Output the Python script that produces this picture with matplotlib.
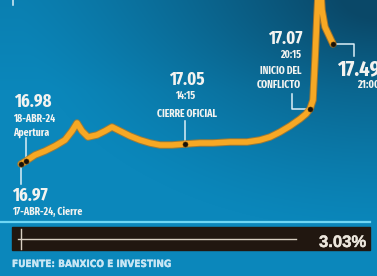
import numpy as np
import matplotlib
matplotlib.use("Agg")
import matplotlib.pyplot as plt
import matplotlib.patheffects as pe
from matplotlib.colors import to_rgb
from matplotlib import font_manager as fm

# ---- data (x = time position, y = relative level) ----
x_pos = [21, 26, 35, 45, 55, 65, 72, 77, 82, 88, 97, 105, 112, 120, 130, 140, 150,
         160, 172, 185, 200, 213, 230, 247, 260, 270, 280, 290, 300, 306, 310, 313,
         315, 317, 318.5, 320.5, 322, 325, 333]
level = [112, 115, 121, 125, 130, 136, 145, 153, 145, 139, 141, 145, 149, 145, 140,
         136, 133, 131, 131, 132, 133, 133, 134, 134, 136, 139, 144, 150, 157, 162,
         167, 176, 216, 261, 291, 291, 266, 249, 232]
marked_idx = [0, 1, 19, 30, 38]
change_label = "3.03%"
source = "FUENTE: BANXICO E INVESTING"

# ---- condensed font lookup ----
order = {"ultra-condensed": 0, "extra-condensed": 1, "condensed": 2,
         "semi-condensed": 3}
def stretch_rank(f):
    n = f.name.lower() + " " + f.fname.lower()
    if "ultracondensed" in n:
        return 0
    if "extracondensed" in n or "extra condensed" in n or "extra-condensed" in n:
        return 1
    s = str(f.stretch)
    if s in order:
        return order[s]
    if "semicondensed" in n:
        return 3
    if "condensed" in n or "narrow" in n:
        return 2
    return 9
def bold_rank(f):
    fn = f.fname.lower()
    if "italic" in fn:
        return 9
    if "semibold" in fn or "extrabold" in fn or "black" in fn:
        return 2
    if "bold" in fn or str(f.weight) in ("700", "bold"):
        return 0
    return 9
def pick(ranks):
    c = [f for f in fm.fontManager.ttflist if stretch_rank(f) in ranks and bold_rank(f) < 9]
    c.sort(key=lambda f: (ranks.index(stretch_rank(f)), bold_rank(f)))
    if c:
        return fm.FontProperties(fname=c[0].fname)
    return fm.FontProperties(family="DejaVu Sans", weight="bold")
big_prop = pick([1, 0, 2, 3])
small_prop = pick([2, 3, 1, 0])
wide_prop = fm.FontProperties(family=["Liberation Sans", "DejaVu Sans"], weight="bold")

W, H = 377, 276
fig = plt.figure(figsize=(W / 100, H / 100), dpi=100)
ax = fig.add_axes([0, 0, 1, 1])
ax.set_xlim(0, W)
ax.set_ylim(0, H)
ax.axis("off")

# background gradient (darker toward the top-right corner)
yy, xx = np.mgrid[0:H, 0:W]
d = np.sqrt(((W - xx) / W) ** 2 + (yy / H) ** 2 * 1.3)
dark = np.clip(1 - d / 0.95, 0, 1) ** 1.3
top = np.clip(1 - yy / 90, 0, 1) * 0.12
t = np.clip(dark + top, 0, 1)
base = np.array(to_rgb("#0b87bb"))
dk = np.array(to_rgb("#0a4868"))
img = base[None, None, :] * (1 - t[..., None]) + dk[None, None, :] * t[..., None]
ax.imshow(img, extent=[0, W, 0, H], origin="upper", aspect="auto", zorder=0)

def Y(py):
    return H - py

txtc = "#f3f3f0"
lead = "#dcefF7"

# small header mark cut at the top edge
ax.plot([13, 13], [Y(0), Y(5)], color=lead, lw=1.1, zorder=2)

# leader lines
ax.plot([26, 26], [Y(138), Y(159)], color=lead, lw=1.1, zorder=2)
ax.plot([21, 21], [Y(167), Y(184)], color=lead, lw=1.1, zorder=2)
ax.plot([185, 185], [Y(121), Y(141)], color=lead, lw=1.1, zorder=2)
ax.plot([292, 292, 308], [Y(94), Y(109), Y(109)], color=lead, lw=1.1, zorder=2)
ax.plot([335, 354, 354], [Y(44), Y(44), Y(56)], color=lead, lw=1.1, zorder=2)

# main line
ax.plot(x_pos, level, color="#f7a824", lw=4.0, solid_capstyle="round",
        solid_joinstyle="round", zorder=3,
        path_effects=[pe.Stroke(linewidth=5.4, foreground="#c07a1c", alpha=0.8),
                      pe.Normal()])
ax.plot([x_pos[i] for i in marked_idx], [level[i] for i in marked_idx], "o",
        color="#1a1208", ms=3.6, mec="#3a2a10", mew=0.4, zorder=4)

def txt(x, py, s, size, ha="left", va="baseline", prop=None, color=txtc, bold=0):
    p = (prop or big_prop).copy()
    p.set_size(size)
    effects = [pe.Stroke(linewidth=bold, foreground=color), pe.Normal()] if bold else None
    ax.text(x, Y(py), s, fontproperties=p, ha=ha, va=va, color=color, zorder=5,
            path_effects=effects)

B = 13
S = 7.6
txt(14, 107, "16.98", B)
txt(13, 122, "18-ABR-24", S)
txt(13, 136, "Apertura", S)
txt(12, 201, "16.97", B)
txt(12, 215, "17-ABR-24, Cierre", S)
txt(187, 85, "17.05", B, ha="center")
txt(185, 99, "14:15", S, ha="center")
txt(187, 117, "CIERRE OFICIAL", S, ha="center")
txt(302, 44, "17.07", B, ha="right")
txt(301, 58, "20:15", S, ha="right")
txt(301, 74, "INICIO DEL", S, ha="right")
txt(301, 88, "CONFLICTO", S, ha="right")
txt(337, 75, "17.49", 16)
txt(357, 88, "21:00", 8)

# bottom bar
ax.plot([0, 370], [Y(222), Y(222)], color="#6fd6f4", lw=1.6, zorder=2)
ax.add_patch(plt.Rectangle((12, Y(250)), 358, 23, color="#211710", zorder=2))
ax.plot([18, 296], [Y(239), Y(239)], color="#d8cfc2", lw=1.0, zorder=3)
ax.plot([20.5, 20.5], [Y(229), Y(249)], color="#d8cfc2", lw=1.0, zorder=3)
txt(366, 247, change_label, 12, ha="right", prop=wide_prop, color="#ece6dc", bold=0.3)
txt(12, 267, source, 7.2, prop=small_prop, color="#c8e6f4", bold=0.2)

fig.savefig("out.png", dpi=100)
